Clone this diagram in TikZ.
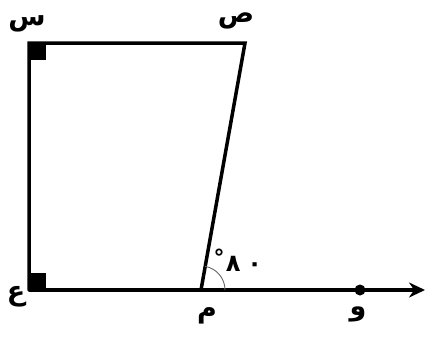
\documentclass[tikz,border=0pt]{standalone}
\usepackage{fontspec}
\newfontfamily\arabicfont[Script=Arabic]{DejaVu Sans}
\TeXXeTstate=1
\usetikzlibrary{arrows.meta,calc}
\begin{document}
\begin{tikzpicture}[x=1pt,y=-1pt,
  edge/.style={line width=3.5pt,line cap=round,line join=miter},
  lbl/.style={font=\arabicfont\bfseries\fontsize{27}{30}\selectfont,inner sep=0pt},
  rmark/.style={fill=black}]
\useasboundingbox (0,0) rectangle (426,338);
\coordinate (S) at (29,43);
\coordinate (Sad) at (245,43);
\coordinate (M) at (201,290);
\coordinate (A) at (29,290);
\coordinate (E) at (425,290);
\node[circle,fill=black,inner sep=0pt,minimum size=11pt] (W) at (360,290) {};
\draw[edge] (A) -- (S) -- (Sad) -- (M);
\draw[line width=3.5pt] (A) -- (M);
\draw[line width=3.8pt,-{Stealth[length=16pt,width=15pt]}] (M) -- (E);
\fill[rmark] (29,43) rectangle (46,60);
\fill[rmark] (29,273) rectangle (46,290);
\draw[gray!80!black,line width=0.9pt] ($(M)+(24,0)$) arc[start angle=0,end angle=-80,radius=24];
\node[lbl] (ls) at (27,24) {\beginR س\endR};
\node[lbl] (lsad) at (236,21) {\beginR ص\endR};
\node[lbl] (le) at (16,297) {\beginR ع\endR};
\node[lbl] (lm) at (207,316) {\beginR م\endR};
\node[lbl] (lw) at (358,314) {\beginR و\endR};
\node[font=\arabicfont\bfseries\fontsize{22}{24}\selectfont,inner sep=0pt] (deg) at (219,257) {°};
\node[font=\arabicfont\bfseries\fontsize{24}{26}\selectfont,inner sep=0pt] (ang) at (244,264) {٨\hspace{7pt}٠};
\end{tikzpicture}
\end{document}
